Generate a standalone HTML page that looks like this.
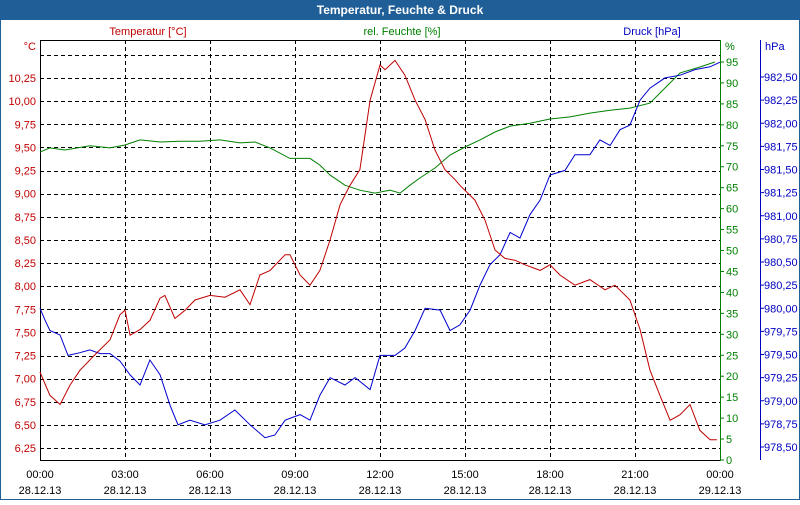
<!DOCTYPE html>
<html><head><meta charset="utf-8"><style>
html,body{margin:0;padding:0;background:#fff}
svg text{font-family:"Liberation Sans",sans-serif;font-size:11px}
</style></head><body>
<svg id="c" width="800" height="500" xmlns="http://www.w3.org/2000/svg">
<rect x="0" y="0" width="800" height="500" fill="#fff"/>
<rect x="0" y="0" width="800" height="20" fill="#1f5e96"/>
<rect x="0.5" y="0.5" width="799" height="499" fill="none" stroke="#1f5e96"/>
<text x="400" y="14" fill="#fff" text-anchor="middle" font-weight="bold" style="font-size:12px">Temperatur, Feuchte &amp; Druck</text>
<text x="148" y="35" fill="#c00000" text-anchor="middle">Temperatur [°C]</text>
<text x="402" y="35" fill="#008000" text-anchor="middle">rel. Feuchte [%]</text>
<text x="652" y="35" fill="#0000c0" text-anchor="middle">Druck [hPa]</text>
<text x="36" y="50" fill="#c00000" text-anchor="end">°C</text>
<text x="725" y="50" fill="#008000">%</text>
<text x="765" y="50" fill="#0000c0">hPa</text>
<g id="g"></g>
</svg>
<script>
const tempTime=[0,0.35,0.71,1.06,1.41,1.94,2.47,2.82,3,3.18,3.53,3.88,4.24,4.41,4.76,5.12,5.47,6,6.53,7.06,7.41,7.76,8.12,8.65,8.82,9.18,9.53,9.88,10.24,10.59,10.94,11.29,11.65,12,12.18,12.53,12.88,13.24,13.59,13.94,14.29,14.65,14.82,15.35,15.71,16.06,16.41,16.76,17.12,17.65,18,18.35,18.88,19.41,19.94,20.29,20.82,21.18,21.53,21.88,22.24,22.59,22.94,23.29,23.65,23.89];
const tempVals=[7.07,6.82,6.72,6.93,7.09,7.26,7.42,7.69,7.74,7.47,7.53,7.63,7.87,7.90,7.65,7.74,7.85,7.90,7.88,7.96,7.80,8.12,8.17,8.34,8.34,8.12,8.01,8.17,8.50,8.88,9.09,9.26,10.01,10.39,10.34,10.44,10.28,10.01,9.80,9.47,9.26,9.15,9.09,8.93,8.71,8.39,8.30,8.28,8.23,8.17,8.23,8.12,8.01,8.07,7.96,8.01,7.85,7.53,7.09,6.82,6.55,6.61,6.72,6.44,6.34,6.34];
const humTime=[0,0.35,0.88,1.76,2.47,3,3.53,4.24,4.94,5.65,6.35,7.06,7.59,8.12,8.82,9.53,9.88,10.24,10.76,11.29,11.82,12.35,12.71,13.06,13.41,13.94,14.47,15,15.53,16.06,16.59,17.29,18,18.71,19.41,20.12,20.82,21.53,22.06,22.59,23.29,23.82];
const humVals=[73.5,74.5,74,75,74.5,75.2,76.4,75.9,76.1,76.1,76.4,75.7,75.9,74.5,72,72,70.4,68,65.6,64.4,63.7,64.4,63.7,65.6,67.3,69.7,72.8,74.7,76.4,78.3,79.7,80.4,81.4,81.9,82.8,83.5,84,85.2,88.8,92.4,93.8,95];
const presTime=[0,0.18,0.35,0.71,0.99,1.41,1.76,2.12,2.47,2.82,3.18,3.53,3.88,4.24,4.59,4.87,5.29,5.82,6.35,6.88,7.41,7.94,8.29,8.65,9.18,9.53,9.88,10.24,10.76,11.12,11.65,12,12.53,12.88,13.24,13.59,14.12,14.47,14.82,15.18,15.53,15.88,16.24,16.59,16.94,17.29,17.65,18,18.53,18.88,19.41,19.76,20.12,20.47,20.82,21.18,21.53,22.06,22.59,23.12,23.65,24];
const presVals=[980.0,979.87,979.76,979.71,979.49,979.52,979.55,979.51,979.51,979.43,979.28,979.17,979.44,979.28,978.95,978.74,978.79,978.74,978.79,978.90,978.74,978.60,978.63,978.79,978.85,978.79,979.06,979.25,979.17,979.25,979.12,979.49,979.49,979.57,979.76,980.0,979.98,979.76,979.82,979.98,980.25,980.47,980.58,980.82,980.76,981.01,981.17,981.44,981.49,981.66,981.66,981.82,981.76,981.93,981.98,982.25,982.38,982.49,982.52,982.58,982.61,982.66];
const tempTicks=["6,25","6,50","6,75","7,00","7,25","7,50","7,75","8,00","8,25","8,50","8,75","9,00","9,25","9,50","9,75","10,00","10,25"];
const tempTickVals=[6.25,6.5,6.75,7,7.25,7.5,7.75,8,8.25,8.5,8.75,9,9.25,9.5,9.75,10,10.25];
const humTickVals=[0,5,10,15,20,25,30,35,40,45,50,55,60,65,70,75,80,85,90,95];
const presTickVals=[978.5,978.75,979,979.25,979.5,979.75,980,980.25,980.5,980.75,981,981.25,981.5,981.75,982,982.25,982.5];
const timeLabels=["00:00","03:00","06:00","09:00","12:00","15:00","18:00","21:00","00:00"];
const dateLabels=["28.12.13","28.12.13","28.12.13","28.12.13","28.12.13","28.12.13","28.12.13","28.12.13","29.12.13"];

const L=40,R=720,T=40,B=460;
const xS=h=>L+h/24*(R-L);
const yT=v=>78+(10.25-v)*92.5;
const yH=v=>460-v*(398/95);
const yP=v=>77+(982.5-v)*92.5;
const g=document.getElementById('g');
const NS='http://www.w3.org/2000/svg';
function mk(tag,attrs){const e=document.createElementNS(NS,tag);for(const k in attrs)e.setAttribute(k,attrs[k]);g.appendChild(e);return e;}
// horizontal grid
[10.5].concat(tempTickVals).forEach(v=>{const y=Math.round(yT(v))+0.5;const e=mk('line',{x1:L,x2:R,y1:y,y2:y,stroke:'#000','stroke-dasharray':'4,3'});

});
// vertical grid
for(let i=1;i<8;i++){const x=Math.round(xS(i*3))+0.5;const e=mk('line',{x1:x,x2:x,y1:T,y2:B,stroke:'#000','stroke-dasharray':'4,3'});

}
// frame axes
let a=mk('polyline',{points:`${R},${T+0.5} ${L+0.5},${T+0.5} ${L+0.5},${B+0.5} ${R},${B+0.5}`,fill:'none',stroke:'#000'});


a=mk('line',{x1:R+0.5,x2:R+0.5,y1:T,y2:B+1,stroke:'#008000'});


a=mk('line',{x1:760.5,x2:760.5,y1:T,y2:B,stroke:'#0000c0'});


// tick labels
tempTickVals.forEach((v,i)=>{const t=mk('text',{x:36,y:yT(v)+4,fill:'#c00000','text-anchor':'end'});t.textContent=tempTicks[i];

});
humTickVals.forEach(v=>{const y=yH(v);mk('line',{x1:R,x2:R+4,y1:y,y2:y,stroke:'#008000'});const t=mk('text',{x:726,y:y+4,fill:'#008000'});t.textContent=v;

});
presTickVals.forEach(v=>{const y=yP(v);mk('line',{x1:760,x2:764,y1:y,y2:y,stroke:'#0000c0'});const t=mk('text',{x:764,y:y+4,fill:'#0000c0'});t.textContent=v.toFixed(2).replace('.',',');

});
timeLabels.forEach((s,i)=>{const x=xS(i*3);let t=mk('text',{x:x,y:478,fill:'#000','text-anchor':'middle'});t.textContent=s;


t=mk('text',{x:x,y:494,fill:'#000','text-anchor':'middle'});t.textContent=dateLabels[i];

});
// series
function line(ts,vs,yf,col,name){const p=ts.map((t,i)=>xS(t).toFixed(1)+','+yf(vs[i]).toFixed(1)).join(' ');const e=mk('polyline',{points:p,fill:'none',stroke:col,'stroke-width':1});

}
line(humTime,humVals,yH,'#008000','humidity-line');
line(presTime,presVals,yP,'#0000d0','pressure-line');
line(tempTime,tempVals,yT,'#c00000','temperature-line');
</script>
</body></html>
